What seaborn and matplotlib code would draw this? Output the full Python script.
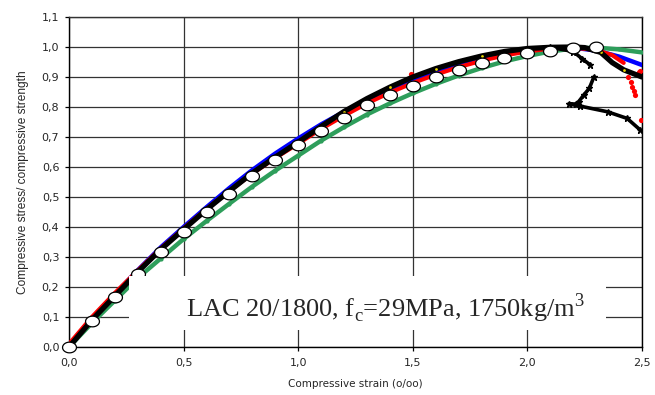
import numpy as np
import pandas as pd
import matplotlib
matplotlib.use("Agg")
import matplotlib.pyplot as plt
from matplotlib.patches import Rectangle
from matplotlib.path import Path
import seaborn as sns

# ---------------- data ----------------
strain_model = [0.0, 0.1, 0.2, 0.3, 0.4, 0.5, 0.6, 0.7, 0.8, 0.9, 1.0, 1.1, 1.2,
                1.3, 1.4, 1.5, 1.6, 1.7, 1.8, 1.9, 2.0, 2.1, 2.2, 2.3]
stress_model = [0.0, 0.088, 0.167, 0.243, 0.317, 0.384, 0.449, 0.511, 0.569, 0.623,
                0.672, 0.721, 0.765, 0.805, 0.839, 0.871, 0.901, 0.925, 0.948, 0.965,
                0.979, 0.988, 0.996, 1.001]

strain_green = [0.0, 0.1, 0.2, 0.3, 0.4, 0.5, 0.6, 0.7, 0.8, 0.9, 1.0, 1.1, 1.2,
                1.3, 1.4, 1.5, 1.6, 1.7, 1.8, 1.9, 2.0, 2.1, 2.2, 2.3, 2.4, 2.5]
stress_green = [0.0, 0.08, 0.155, 0.23, 0.295, 0.36, 0.42, 0.478, 0.535, 0.588,
                0.638, 0.688, 0.733, 0.775, 0.812, 0.846, 0.877, 0.905, 0.93, 0.952,
                0.97, 0.985, 0.995, 0.998, 0.992, 0.982]

strain_blue = [0.0, 0.1, 0.2, 0.3, 0.4, 0.5, 0.6, 0.7, 0.8, 0.9, 1.0, 1.1, 1.2,
               1.3, 1.4, 1.5, 1.6, 1.7, 1.8, 1.9, 2.0, 2.1, 2.2, 2.3, 2.4, 2.5]
stress_blue = [0.0, 0.095, 0.176, 0.256, 0.332, 0.4, 0.466, 0.53, 0.59, 0.645,
               0.695, 0.742, 0.784, 0.824, 0.86, 0.892, 0.92, 0.944, 0.964, 0.98,
               0.992, 0.998, 0.998, 0.988, 0.968, 0.94]

strain_red = [0.0, 0.1, 0.2, 0.3, 0.4, 0.5, 0.6, 0.7, 0.8, 0.9, 1.0, 1.1, 1.2,
              1.3, 1.4, 1.5, 1.6, 1.7, 1.8, 1.9, 2.0, 2.1, 2.2, 2.3, 2.37, 2.42]
stress_red = [0.01, 0.1, 0.18, 0.255, 0.328, 0.395, 0.46, 0.52, 0.578, 0.63,
              0.678, 0.727, 0.771, 0.812, 0.848, 0.88, 0.908, 0.933, 0.954, 0.972,
              0.985, 0.995, 0.998, 0.99, 0.973, 0.947]
strain_red_dots = [1.49, 2.44, 2.45, 2.457, 2.465, 2.47, 2.485, 2.49, 2.495]
stress_red_dots = [0.91, 0.90, 0.885, 0.868, 0.855, 0.84, 0.918, 0.92, 0.757]

strain_black = [0.0, 0.1, 0.2, 0.3, 0.4, 0.5, 0.6, 0.7, 0.8, 0.9, 1.0, 1.1, 1.2,
                1.3, 1.4, 1.5, 1.6, 1.7, 1.8, 1.9, 2.0, 2.1, 2.2, 2.25, 2.32, 2.37,
                2.42, 2.5]
stress_black = [0.0, 0.09, 0.17, 0.25, 0.325, 0.392, 0.458, 0.52, 0.58, 0.633,
                0.683, 0.735, 0.785, 0.828, 0.866, 0.9, 0.928, 0.951, 0.97, 0.985,
                0.995, 0.999, 1.0, 0.998, 0.982, 0.948, 0.924, 0.90]

strain_snap = [2.1, 2.2, 2.24, 2.275, np.nan, 2.29, 2.27, 2.246, 2.224, 2.21, 2.18,
               2.23, 2.35, 2.435, 2.49]
stress_snap = [0.999, 0.985, 0.96, 0.94, np.nan, 0.90, 0.862, 0.84, 0.818, 0.81,
               0.81, 0.803, 0.784, 0.762, 0.725]

x_ticks = [0.0, 0.5, 1.0, 1.5, 2.0, 2.5]
x_tick_labels = ["0,0", "0,5", "1,0", "1,5", "2,0", "2,5"]
y_ticks = [0.0, 0.1, 0.2, 0.3, 0.4, 0.5, 0.6, 0.7, 0.8, 0.9, 1.0, 1.1]
y_tick_labels = ["0,0", "0,1", "0,2", "0,3", "0,4", "0,5", "0,6", "0,7", "0,8",
                 "0,9", "1,0", "1,1"]

x_label = "Compressive strain (o/oo)"
y_label = "Compressive stress/ compressive strength"
annotation = r"LAC 20/1800, f$_\mathregular{c}$=29MPa, 1750kg/m$^\mathregular{3}$"

# ---------------- plot ----------------
sns.set_style("white")
plt.rcParams["font.family"] = ["DejaVu Sans"]
plt.rcParams["mathtext.fontset"] = "custom"
plt.rcParams["mathtext.rm"] = "Liberation Serif"

fig = plt.figure(figsize=(6.55, 3.95), dpi=100)
ax = fig.add_axes([69 / 655, 1 - 347 / 395, (642 - 69) / 655, (347 - 17) / 395])

sns.lineplot(x=strain_green, y=stress_green, ax=ax, color="#2E9E5B", lw=3.2,
             sort=False, zorder=3, marker="o", markersize=3, markeredgewidth=0)
sns.lineplot(x=strain_blue, y=stress_blue, ax=ax, color="#0000FF", lw=3.2,
             sort=False, zorder=3)
sns.lineplot(x=strain_red, y=stress_red, ax=ax, color="#FF0000", lw=3.0,
             sort=False, zorder=3)
sns.scatterplot(x=strain_red_dots, y=stress_red_dots, ax=ax, color="#FF0000",
                s=14, linewidth=0, zorder=3)
sns.lineplot(x=strain_black, y=stress_black, ax=ax, color="black", lw=3.8,
             sort=False, zorder=3)
sns.scatterplot(x=strain_black[2:-1:2], y=stress_black[2:-1:2], ax=ax,
                color="#E8D800", s=4, linewidth=0, zorder=3.5)
ax.plot(strain_snap, stress_snap, color="black", lw=2.6, marker="*",
        markersize=4.5, zorder=3.6)

theta = np.linspace(0, 2 * np.pi, 60)
ellipse = Path(np.column_stack([1.3 * np.cos(theta), np.sin(theta)]), closed=True)
sns.scatterplot(x=strain_model, y=stress_model, ax=ax, marker=ellipse, s=100,
                facecolor="white", edgecolor="black", linewidth=0.9, zorder=4,
                clip_on=False)

# white label box
ax.add_patch(Rectangle((0.262, 0.057), 2.345 - 0.262, 0.237 - 0.057,
                       facecolor="white", edgecolor="none", zorder=5))
ax.text(0.51, 0.101, annotation, fontsize=19, family=["Liberation Serif"],
        ha="left", va="baseline", zorder=6)

ax.set_xlim(0, 2.5)
ax.set_ylim(0, 1.1)
ax.set_xticks(x_ticks)
ax.set_xticklabels(x_tick_labels, fontsize=8)
ax.set_yticks(y_ticks)
ax.set_yticklabels(y_tick_labels, fontsize=8)
ax.set_xlabel(x_label, fontsize=7.5, labelpad=8)
ax.set_ylabel(y_label, fontsize=8.6, labelpad=9, family=["Liberation Sans Narrow", "Liberation Sans"])
ax.grid(True, color="#333333", lw=0.9, zorder=1)
ax.set_axisbelow(True)
ax.tick_params(axis="both", direction="out", length=3, width=0.9, color="black",
               bottom=True, left=True, pad=5)
ax.tick_params(axis="y", pad=4)
for sp in ax.spines.values():
    sp.set_color("black")
    sp.set_linewidth(1.0)
ax.spines["top"].set_color("#333333")

fig.savefig("out.png", dpi=100)
